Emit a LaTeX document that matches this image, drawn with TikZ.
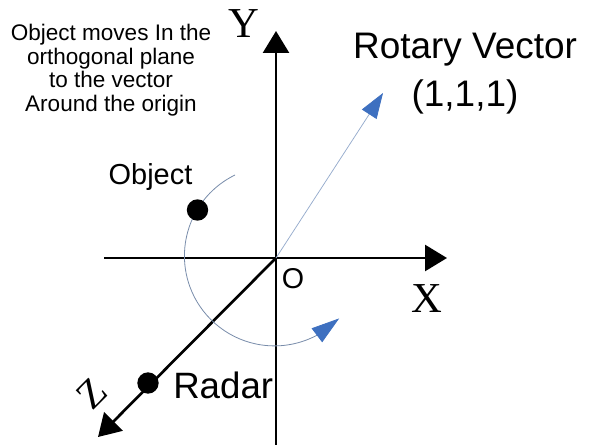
\documentclass[tikz,border=0pt]{standalone}
\usepackage{fontspec}
\setmainfont{Liberation Sans}
\newfontfamily\axisfont{Liberation Serif}
\usetikzlibrary{arrows.meta,bending}
\definecolor{tipblue}{RGB}{62,112,192}
\definecolor{arcgrey}{RGB}{120,140,170}
\definecolor{vecgrey}{RGB}{150,172,205}
\tikzset{
  axis/.style={line width=2pt, -{Triangle[length=16.5pt,width=19.5pt]}},
  dot/.style={circle, fill=black, inner sep=0pt, minimum size=16pt},
  lbl/.style={inner sep=0pt, text=black},
  axlbl/.style={inner sep=0pt, font=\axisfont\fontsize{32}{32}\selectfont},
  bluetip/.style={-{Triangle[length=19pt,width=13pt,color=tipblue]}},
  arctip/.style={-{Triangle[length=21pt,width=13pt,color=tipblue]}},
}
\begin{document}
\begin{tikzpicture}[x=0.75pt,y=-0.75pt]
\useasboundingbox (0,0) rectangle (592,445);
\fill[white] (0,0) rectangle (592,445);
% coordinates
\coordinate (O) at (276,258);
\coordinate (ytip) at (276,31);
\coordinate (ybot) at (276,445);
\coordinate (xleft) at (104,258);
\coordinate (xtip) at (447,258);
\coordinate (ztip) at (98,437);
\coordinate (vtip) at (383,93);
\coordinate (arcstart) at (235,175);
% axes
\draw[axis] (ybot) -- (ytip);
\draw[axis] (xleft) -- (xtip);
\draw[axis] (O) -- (ztip);
% rotary vector
\draw[vecgrey, line width=0.55pt, bluetip] (O) -- (vtip);
% arc of motion
\draw[arcgrey, line width=0.6pt, arctip] (arcstart) arc[start angle=116, end angle=316, radius=67.5pt];
% dots
\node[dot] (obj) at (197.5,210) {};
\node[dot] (radar) at (148,383) {};
% labels
\node[lbl, align=center, font=\fontsize{16.9}{17.6}\selectfont] (note) at (111,70)
  {Object moves In the\\orthogonal plane\\to the vector\\Around the origin};
\node[lbl, align=center, font=\fontsize{27.7}{36}\selectfont] (rv) at (465,73.4)
  {Rotary Vector\\(1,1,1)};
\node[lbl, anchor=base, font=\fontsize{21.7}{22}\selectfont] (objl) at (150.5,185) {Object};
\node[lbl, anchor=base west, font=\fontsize{27.5}{28}\selectfont] (radl) at (173,398) {Radar};
\node[lbl, anchor=base, font=\fontsize{21.5}{21.5}\selectfont] (ol) at (293,288) {O};
\node[axlbl, anchor=base] (yl) at (244,38) {Y};
\node[axlbl, anchor=base] (xl) at (427,312) {X};
\node[axlbl, rotate=45, font=\axisfont\fontsize{30}{30}\selectfont] (zl) at (92,394) {Z};
\end{tikzpicture}
\end{document}
